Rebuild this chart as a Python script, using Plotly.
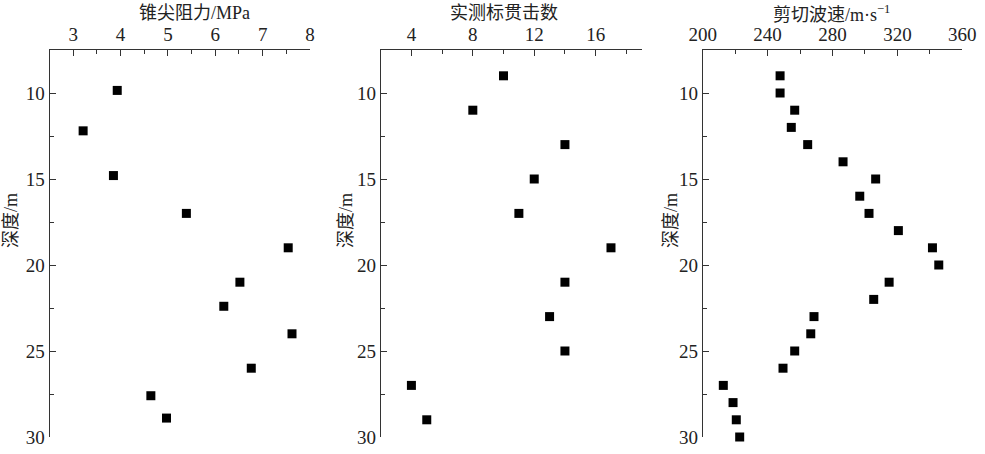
import plotly.graph_objects as go

# ---- data ----
cone_resistance = [3.93, 3.21, 3.85, 5.39, 7.54, 6.52, 6.18, 7.62, 6.76, 4.64, 4.97]
cone_depth = [9.85, 12.2, 14.8, 17.0, 19.0, 21.0, 22.4, 24.0, 26.0, 27.6, 28.9]

spt_blows = [10, 8, 14, 12, 11, 17, 14, 13, 14, 4, 5]
spt_depth = [9, 11, 13, 15, 17, 19, 21, 23, 25, 27, 29]

vs_values = [247.7, 247.7, 256.7, 254.6, 264.7, 286.5, 306.6, 296.8, 302.5, 320.6,
             341.6, 345.5, 314.9, 305.4, 268.6, 266.6, 256.7, 249.5, 212.7, 218.7,
             220.7, 222.8]
vs_depth = [9, 10, 11, 12, 13, 14, 15, 16, 17, 18, 19, 20, 21, 22, 23, 24, 25, 26,
            27, 28, 29, 30]

x_titles = ["锥尖阻力/MPa", "实测标贯击数", "剪切波速/m·s<sup>−1</sup>"]
y_title = "深度/m"

W, H = 985, 454
FONT = "Liberation Serif, Noto Sans CJK SC, serif"
AX = "#333333"

x_px = [(49.5, 310.0), (380.7, 641.7), (702.7, 962.3)]
y_top, y_bot = 50.0, 437.0
x_ranges = [[2.5, 8], [2, 19], [200, 360]]
x_major = [(3, 1), (4, 4), (200, 40)]
x_minor = [0.5, 2, 20]


def px_x(p):
    return p / W


def px_y(p):
    return 1 - p / H


fig = go.Figure()
series = [(cone_resistance, cone_depth), (spt_blows, spt_depth), (vs_values, vs_depth)]
for i, (xs, ys) in enumerate(series):
    sfx = "" if i == 0 else str(i + 1)
    fig.add_trace(go.Scatter(x=xs, y=ys, mode="markers", cliponaxis=False,
                             marker=dict(symbol="square", size=9, color="black"),
                             xaxis="x" + sfx, yaxis="y" + sfx, showlegend=False))
    fig.layout["xaxis" + sfx] = dict(
        domain=[px_x(x_px[i][0]), px_x(x_px[i][1])], anchor="y" + sfx, side="top",
        range=x_ranges[i], tick0=x_major[i][0], dtick=x_major[i][1],
        ticks="inside", ticklen=6, tickcolor=AX, tickwidth=1,
        showline=True, linecolor=AX, linewidth=1, showgrid=False, zeroline=False,
        tickfont=dict(family=FONT, size=19, color="#222"),
        minor=dict(dtick=x_minor[i], ticks="inside", ticklen=4, tickcolor=AX, showgrid=False),
        automargin=False,
    )
    fig.layout["yaxis" + sfx] = dict(
        domain=[px_y(y_bot), px_y(y_top)], anchor="x" + sfx,
        range=[30, 7.5], tick0=0, dtick=5,
        ticks="inside", ticklen=6, tickcolor=AX, tickwidth=1,
        showline=True, linecolor=AX, linewidth=1, showgrid=False, zeroline=False,
        tickfont=dict(family=FONT, size=19, color="#222"),
        minor=dict(dtick=2.5, ticks="inside", ticklen=4, tickcolor=AX, showgrid=False),
        automargin=False,
    )

title_x = [194, 503.5, 831]
ytitle_x = [11, 346, 671]
annotations = []
for i in range(3):
    annotations.append(dict(text=x_titles[i], x=px_x(title_x[i]), y=px_y(13),
                            xref="paper", yref="paper", showarrow=False,
                            xanchor="center", yanchor="middle",
                            font=dict(family=FONT, size=18, color="#222")))
    annotations.append(dict(text=y_title, x=px_x(ytitle_x[i]), y=px_y(221),
                            xref="paper", yref="paper", showarrow=False, textangle=-90,
                            xanchor="center", yanchor="middle",
                            font=dict(family=FONT, size=18, color="#222")))

fig.update_layout(width=W, height=H, margin=dict(l=0, r=0, t=0, b=0),
                  template="none", paper_bgcolor="white", plot_bgcolor="white",
                  annotations=annotations, font=dict(family=FONT), hovermode=False)

fig.write_html("out.html", config={"displayModeBar": False},
               post_script="document.body.style.margin='0';document.body.style.overflow='hidden';")
